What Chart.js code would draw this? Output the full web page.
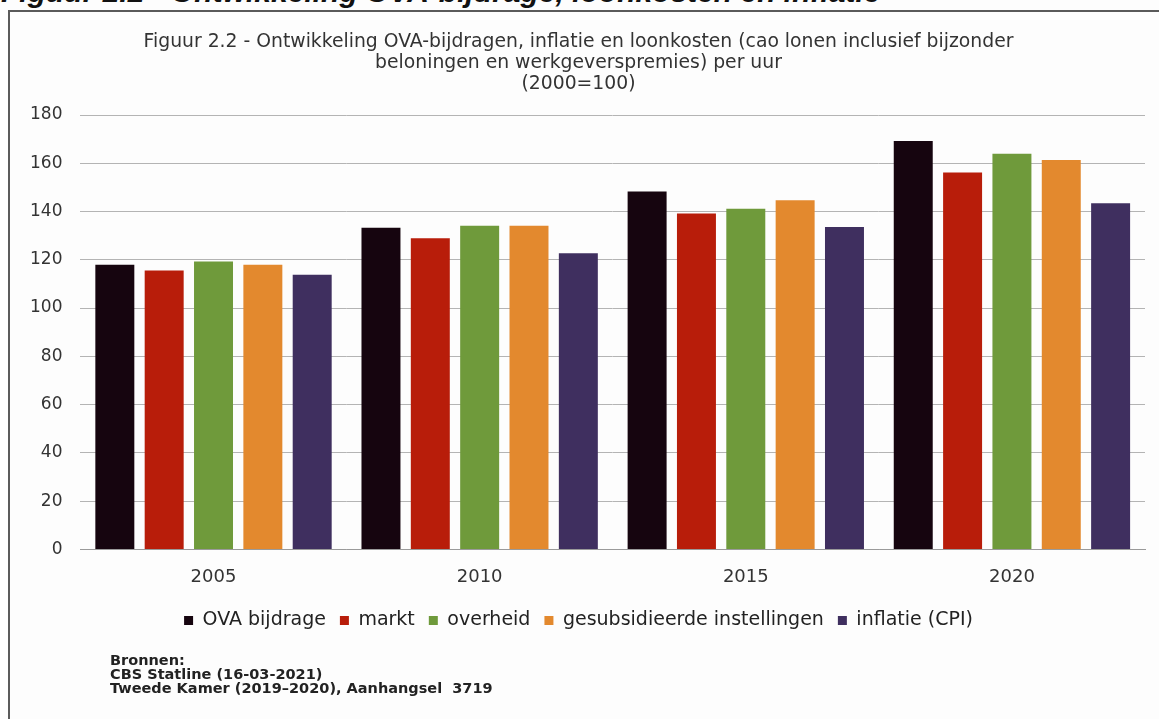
<!DOCTYPE html>
<html>
<head>
<meta charset="utf-8">
<script src="https://cdn.jsdelivr.net/npm/chart.js@4.4.1/dist/chart.umd.min.js"></script>
<style>
  html, body { margin: 0; padding: 0; background: #fdfdfd; }
  body { width: 1159px; height: 719px; position: relative; overflow: hidden; }
  #heading {
    position: absolute; left: 1px; top: -25px; white-space: nowrap;
    font: italic bold 30px "Liberation Sans", Arial, sans-serif; color: #111;
  }
  #frame {
    position: absolute; left: 8px; top: 10px; width: 1170px; height: 730px;
    border-left: 2px solid #5a5a5a; border-top: 2px solid #5a5a5a;
  }
  #chart { position: absolute; left: 0; top: 0; }
  #sources {
    position: absolute; left: 110px; top: 653px;
    font: bold 14.5px "DejaVu Sans", Verdana, sans-serif; line-height: 14px; color: #222;
  }
</style>
</head>
<body>
<div id="heading">Figuur 2.2 - Ontwikkeling OVA-bijdrage, loonkosten en inflatie</div>
<div id="frame"></div>
<canvas id="chart" width="1159" height="719"></canvas>
<div id="sources">Bronnen:<br>CBS Statline (16-03-2021)<br>Tweede Kamer (2019–2020), Aanhangsel&nbsp;&nbsp;3719</div>

<script>
// --- DATA ---
const years = ['2005', '2010', '2015', '2020'];
const ovaBijdrage = [118, 133.3, 148.3, 169.2];
const markt = [115.6, 128.9, 139.2, 156.2];
const overheid = [119.3, 134.1, 141.2, 163.9];
const gesubsidieerd = [118, 134.1, 144.7, 161.4];
const inflatie = [113.8, 122.7, 133.6, 143.4];
const yTicks = [0, 20, 40, 60, 80, 100, 120, 140, 160, 180];

const titleLines = [
    'Figuur 2.2 - Ontwikkeling OVA-bijdragen, inflatie en loonkosten (cao lonen inclusief bijzonder',
    'beloningen en werkgeverspremies) per uur',
    '(2000=100)'
];

// --- CHART ---
const ctx = document.getElementById('chart');

new Chart(ctx, {
    type: 'bar',
    data: {
        labels: years,
        datasets: [
            { label: 'OVA bijdrage', data: ovaBijdrage, backgroundColor: '#16050f' },
            { label: 'markt', data: markt, backgroundColor: '#b81d0a' },
            { label: 'overheid', data: overheid, backgroundColor: '#6f9a3b' },
            { label: 'gesubsidieerde instellingen', data: gesubsidieerd, backgroundColor: '#e3892e' },
            { label: 'inflatie (CPI)', data: inflatie, backgroundColor: '#3f2f5f' }
        ]
    },
    options: {
        responsive: false,
        animation: false,
        categoryPercentage: 0.927,
        barPercentage: 0.79,
        layout: { padding: { top: 20, left: 12, right: 14, bottom: 79 } },
        scales: {
            x: {
                grid: { display: false },
                border: { color: '#9a9a9a', width: 1 },
                ticks: {
                    color: '#333',
                    padding: 9,
                    font: { family: '"DejaVu Sans", Verdana, sans-serif', size: 18 }
                }
            },
            y: {
                min: 0,
                max: 180,
                afterBuildTicks: axis => { axis.ticks = yTicks.map(v => ({ value: v })); },
                border: { display: false },
                grid: { color: '#b4b4b4', lineWidth: 1, drawTicks: false },
                ticks: {
                    color: '#333',
                    padding: 18,
                    font: { family: '"DejaVu Sans", Verdana, sans-serif', size: 17 }
                }
            }
        },
        plugins: {
            title: {
                display: true,
                text: titleLines,
                color: '#333',
                padding: { top: 12, bottom: 20 },
                font: { family: '"DejaVu Sans", Verdana, sans-serif', size: 18.8, weight: 'normal', lineHeight: '21px' }
            },
            legend: {
                position: 'bottom',
                labels: {
                    color: '#222',
                    boxWidth: 9,
                    boxHeight: 9,
                    padding: 14,
                    font: { family: '"DejaVu Sans", Verdana, sans-serif', size: 19 }
                }
            },
            tooltip: { enabled: false }
        }
    }
});
</script>
</body>
</html>
